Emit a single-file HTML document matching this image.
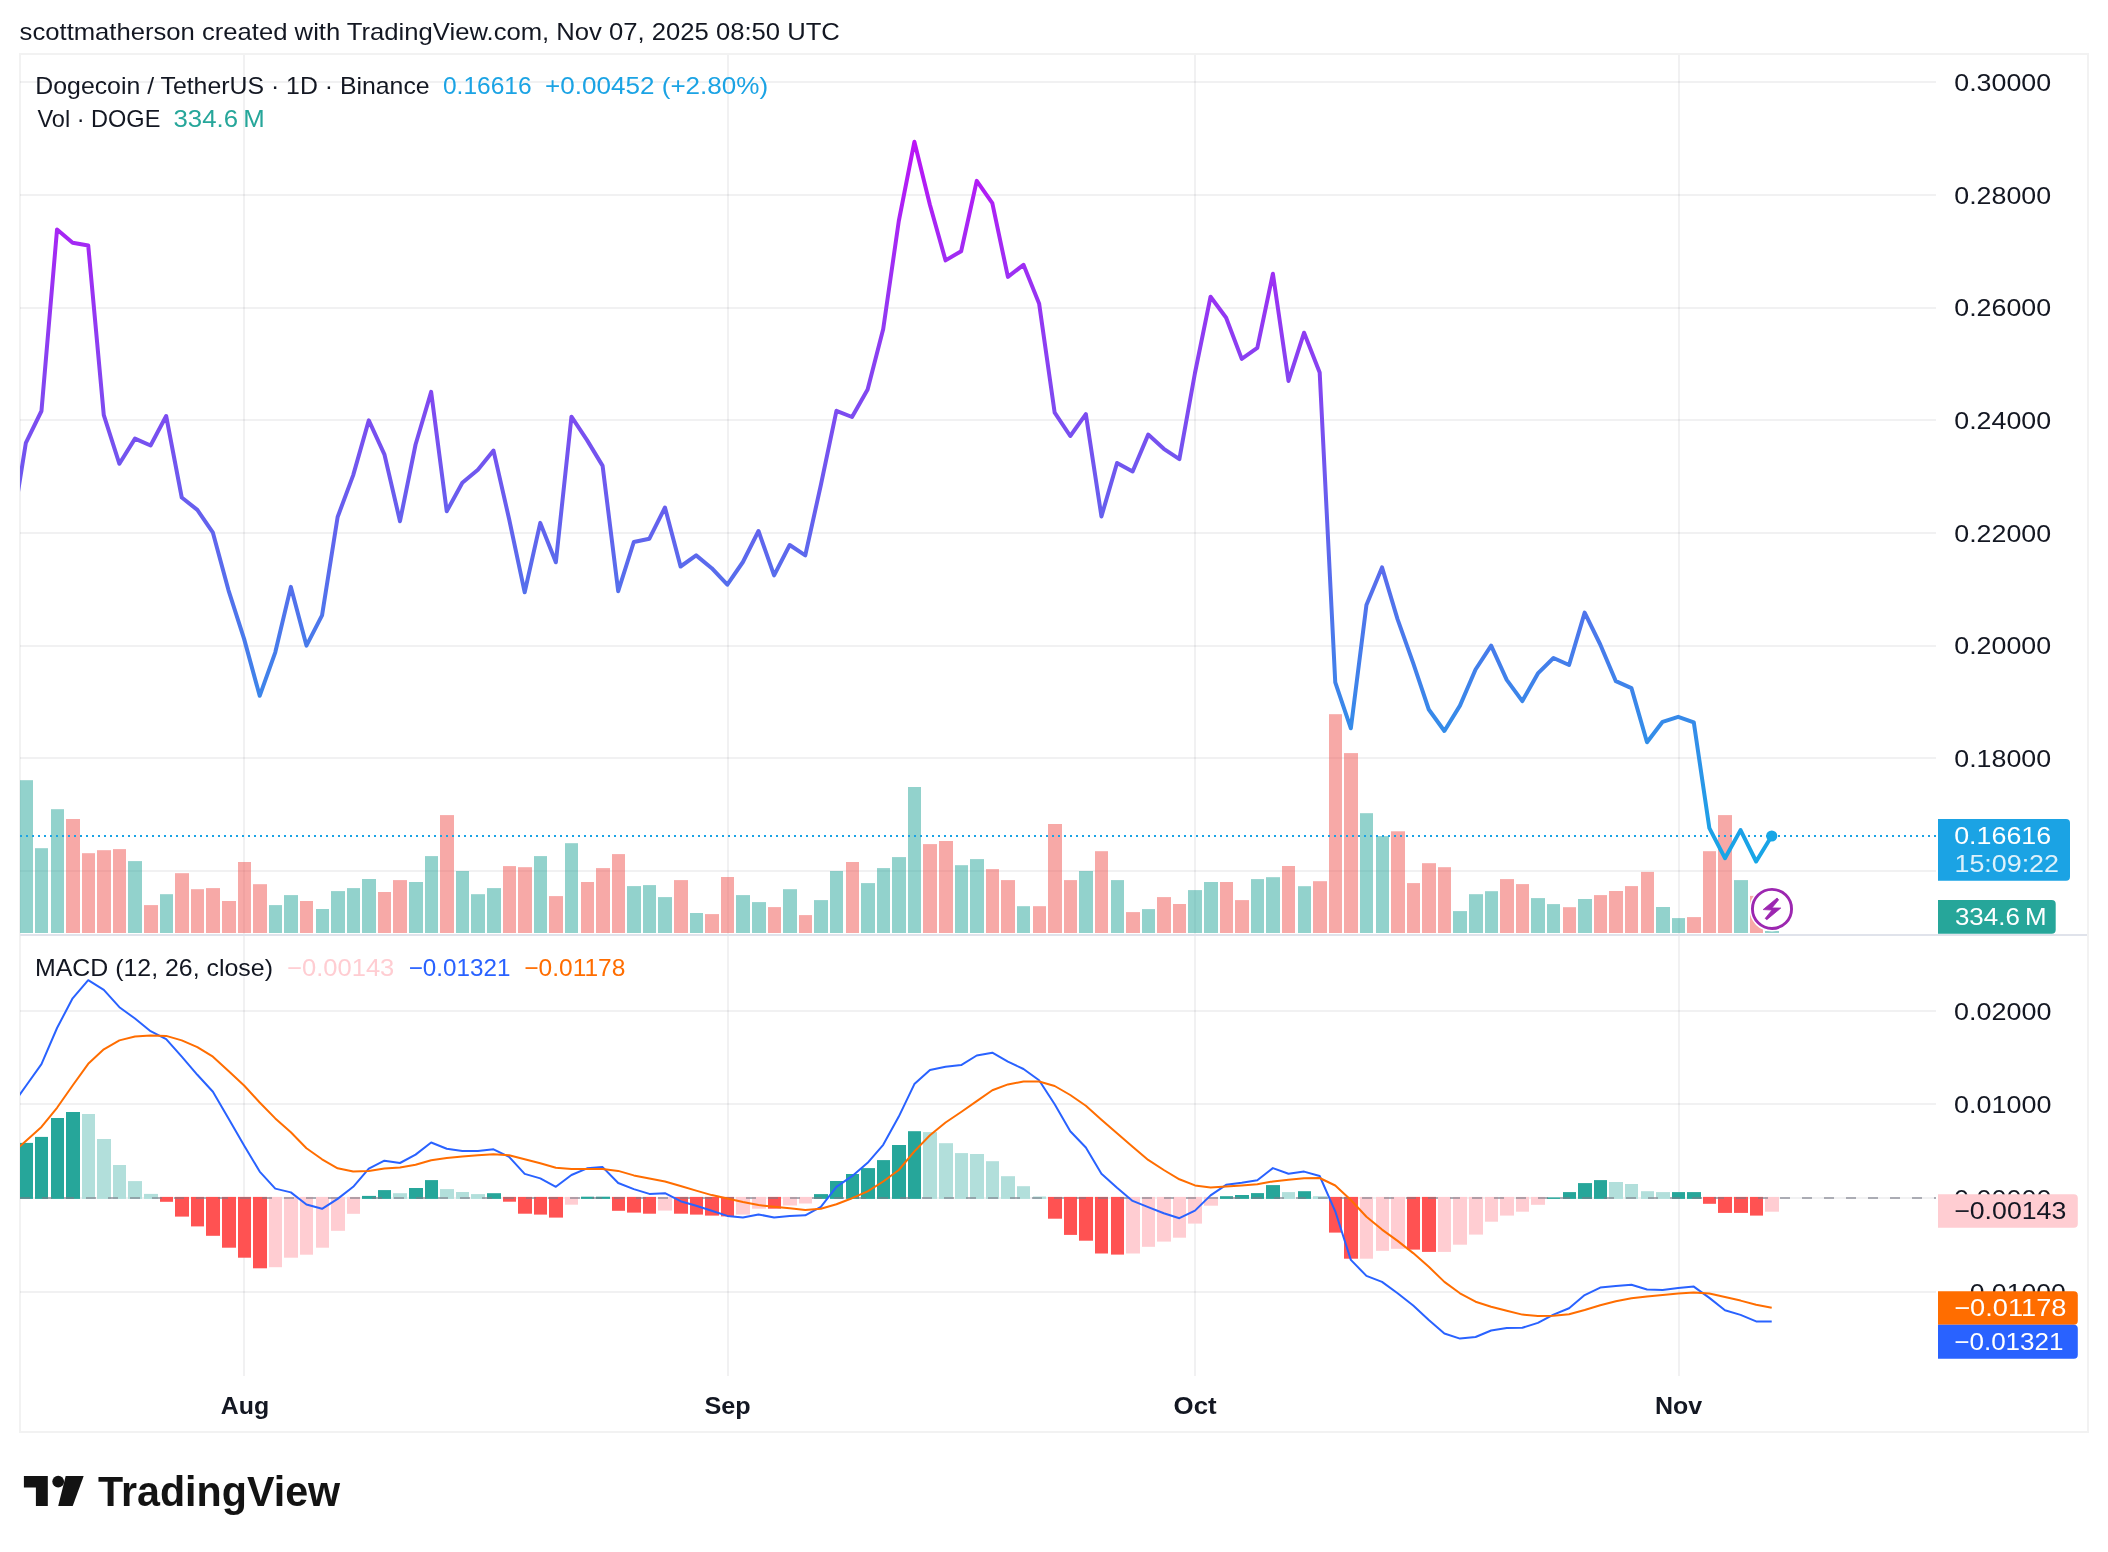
<!DOCTYPE html>
<html><head><meta charset="utf-8"><title>DOGE/USDT chart</title>
<style>
html,body{margin:0;padding:0;background:#fff;}
body{width:2108px;height:1552px;overflow:hidden;}
svg{display:block;will-change:transform;}
text{font-family:"Liberation Sans", Arial, sans-serif;}
</style></head><body>
<svg width="2108" height="1552" viewBox="0 0 2108 1552">
<defs>
<linearGradient id="lg" gradientUnits="userSpaceOnUse" x1="0" y1="141" x2="0" y2="862">
<stop offset="0" stop-color="#bb14f6"/>
<stop offset="1" stop-color="#16a7e6"/>
</linearGradient>
<clipPath id="cp"><rect x="20" y="55" width="1916" height="879"/></clipPath>
<clipPath id="cm"><rect x="20" y="936" width="1916" height="440"/></clipPath>
</defs>
<rect x="0" y="0" width="2108" height="1552" fill="#ffffff"/>

<rect x="20" y="54" width="2068" height="1378" fill="none" stroke="#f2f2f2" stroke-width="2"/>
<rect x="20" y="81" width="1916" height="2" fill="rgba(42,46,57,0.065)"/>
<rect x="20" y="194" width="1916" height="2" fill="rgba(42,46,57,0.065)"/>
<rect x="20" y="307" width="1916" height="2" fill="rgba(42,46,57,0.065)"/>
<rect x="20" y="419" width="1916" height="2" fill="rgba(42,46,57,0.065)"/>
<rect x="20" y="532" width="1916" height="2" fill="rgba(42,46,57,0.065)"/>
<rect x="20" y="645" width="1916" height="2" fill="rgba(42,46,57,0.065)"/>
<rect x="20" y="757" width="1916" height="2" fill="rgba(42,46,57,0.065)"/>
<rect x="20" y="870" width="1916" height="2" fill="rgba(42,46,57,0.065)"/>
<rect x="20" y="1010" width="1916" height="2" fill="rgba(42,46,57,0.065)"/>
<rect x="20" y="1103" width="1916" height="2" fill="rgba(42,46,57,0.065)"/>
<rect x="20" y="1197" width="1916" height="2" fill="rgba(42,46,57,0.065)"/>
<rect x="20" y="1291" width="1916" height="2" fill="rgba(42,46,57,0.065)"/>
<rect x="243" y="55" width="2" height="879" fill="rgba(42,46,57,0.065)"/>
<rect x="243" y="936" width="2" height="440" fill="rgba(42,46,57,0.065)"/>
<rect x="727" y="55" width="2" height="879" fill="rgba(42,46,57,0.065)"/>
<rect x="727" y="936" width="2" height="440" fill="rgba(42,46,57,0.065)"/>
<rect x="1194" y="55" width="2" height="879" fill="rgba(42,46,57,0.065)"/>
<rect x="1194" y="936" width="2" height="440" fill="rgba(42,46,57,0.065)"/>
<rect x="1678" y="55" width="2" height="879" fill="rgba(42,46,57,0.065)"/>
<rect x="1678" y="936" width="2" height="440" fill="rgba(42,46,57,0.065)"/>
<g clip-path="url(#cp)">
<rect x="19" y="780.2" width="14" height="152.8" fill="rgba(38,166,154,0.5)"/>
<rect x="35" y="848.2" width="13" height="84.8" fill="rgba(38,166,154,0.5)"/>
<rect x="51" y="809.2" width="13" height="123.8" fill="rgba(38,166,154,0.5)"/>
<rect x="66" y="819.0" width="14" height="114.0" fill="rgba(239,83,80,0.5)"/>
<rect x="82" y="853.2" width="13" height="79.8" fill="rgba(239,83,80,0.5)"/>
<rect x="97" y="850.2" width="14" height="82.8" fill="rgba(239,83,80,0.5)"/>
<rect x="113" y="849.1" width="13" height="83.9" fill="rgba(239,83,80,0.5)"/>
<rect x="128" y="861.1" width="14" height="71.9" fill="rgba(38,166,154,0.5)"/>
<rect x="144" y="905.1" width="14" height="27.9" fill="rgba(239,83,80,0.5)"/>
<rect x="160" y="894.2" width="13" height="38.8" fill="rgba(38,166,154,0.5)"/>
<rect x="175" y="873.2" width="14" height="59.8" fill="rgba(239,83,80,0.5)"/>
<rect x="191" y="889.2" width="13" height="43.8" fill="rgba(239,83,80,0.5)"/>
<rect x="206" y="888.1" width="14" height="44.9" fill="rgba(239,83,80,0.5)"/>
<rect x="222" y="901.0" width="14" height="32.0" fill="rgba(239,83,80,0.5)"/>
<rect x="238" y="862.0" width="13" height="71.0" fill="rgba(239,83,80,0.5)"/>
<rect x="253" y="884.2" width="14" height="48.8" fill="rgba(239,83,80,0.5)"/>
<rect x="269" y="905.1" width="13" height="27.9" fill="rgba(38,166,154,0.5)"/>
<rect x="284" y="895.1" width="14" height="37.9" fill="rgba(38,166,154,0.5)"/>
<rect x="300" y="901.0" width="13" height="32.0" fill="rgba(239,83,80,0.5)"/>
<rect x="316" y="909.0" width="13" height="24.0" fill="rgba(38,166,154,0.5)"/>
<rect x="331" y="891.1" width="14" height="41.9" fill="rgba(38,166,154,0.5)"/>
<rect x="347" y="888.1" width="13" height="44.9" fill="rgba(38,166,154,0.5)"/>
<rect x="362" y="879.0" width="14" height="54.0" fill="rgba(38,166,154,0.5)"/>
<rect x="378" y="892.0" width="13" height="41.0" fill="rgba(239,83,80,0.5)"/>
<rect x="393" y="880.1" width="14" height="52.9" fill="rgba(239,83,80,0.5)"/>
<rect x="409" y="882.0" width="14" height="51.0" fill="rgba(38,166,154,0.5)"/>
<rect x="425" y="856.1" width="13" height="76.9" fill="rgba(38,166,154,0.5)"/>
<rect x="440" y="815.1" width="14" height="117.9" fill="rgba(239,83,80,0.5)"/>
<rect x="456" y="871.0" width="13" height="62.0" fill="rgba(38,166,154,0.5)"/>
<rect x="471" y="894.2" width="14" height="38.8" fill="rgba(38,166,154,0.5)"/>
<rect x="487" y="888.1" width="14" height="44.9" fill="rgba(38,166,154,0.5)"/>
<rect x="503" y="866.1" width="13" height="66.9" fill="rgba(239,83,80,0.5)"/>
<rect x="518" y="867.2" width="14" height="65.8" fill="rgba(239,83,80,0.5)"/>
<rect x="534" y="856.1" width="13" height="76.9" fill="rgba(38,166,154,0.5)"/>
<rect x="549" y="896.1" width="14" height="36.9" fill="rgba(239,83,80,0.5)"/>
<rect x="565" y="843.2" width="13" height="89.8" fill="rgba(38,166,154,0.5)"/>
<rect x="581" y="882.0" width="13" height="51.0" fill="rgba(239,83,80,0.5)"/>
<rect x="596" y="868.1" width="14" height="64.9" fill="rgba(239,83,80,0.5)"/>
<rect x="612" y="854.1" width="13" height="78.9" fill="rgba(239,83,80,0.5)"/>
<rect x="627" y="886.1" width="14" height="46.9" fill="rgba(38,166,154,0.5)"/>
<rect x="643" y="885.1" width="13" height="47.9" fill="rgba(38,166,154,0.5)"/>
<rect x="658" y="897.1" width="14" height="35.9" fill="rgba(38,166,154,0.5)"/>
<rect x="674" y="880.1" width="14" height="52.9" fill="rgba(239,83,80,0.5)"/>
<rect x="690" y="913.0" width="13" height="20.0" fill="rgba(38,166,154,0.5)"/>
<rect x="705" y="914.1" width="14" height="18.9" fill="rgba(239,83,80,0.5)"/>
<rect x="721" y="877.0" width="13" height="56.0" fill="rgba(239,83,80,0.5)"/>
<rect x="736" y="895.1" width="14" height="37.9" fill="rgba(38,166,154,0.5)"/>
<rect x="752" y="902.1" width="14" height="30.9" fill="rgba(38,166,154,0.5)"/>
<rect x="768" y="907.1" width="13" height="25.9" fill="rgba(239,83,80,0.5)"/>
<rect x="783" y="889.2" width="14" height="43.8" fill="rgba(38,166,154,0.5)"/>
<rect x="799" y="915.1" width="13" height="17.9" fill="rgba(239,83,80,0.5)"/>
<rect x="814" y="900.1" width="14" height="32.9" fill="rgba(38,166,154,0.5)"/>
<rect x="830" y="871.0" width="13" height="62.0" fill="rgba(38,166,154,0.5)"/>
<rect x="846" y="862.0" width="13" height="71.0" fill="rgba(239,83,80,0.5)"/>
<rect x="861" y="883.1" width="14" height="49.9" fill="rgba(38,166,154,0.5)"/>
<rect x="877" y="868.1" width="13" height="64.9" fill="rgba(38,166,154,0.5)"/>
<rect x="892" y="857.1" width="14" height="75.9" fill="rgba(38,166,154,0.5)"/>
<rect x="908" y="787.0" width="13" height="146.0" fill="rgba(38,166,154,0.5)"/>
<rect x="923" y="844.1" width="14" height="88.9" fill="rgba(239,83,80,0.5)"/>
<rect x="939" y="841.0" width="14" height="92.0" fill="rgba(239,83,80,0.5)"/>
<rect x="955" y="865.2" width="13" height="67.8" fill="rgba(38,166,154,0.5)"/>
<rect x="970" y="859.1" width="14" height="73.9" fill="rgba(38,166,154,0.5)"/>
<rect x="986" y="869.1" width="13" height="63.9" fill="rgba(239,83,80,0.5)"/>
<rect x="1001" y="880.1" width="14" height="52.9" fill="rgba(239,83,80,0.5)"/>
<rect x="1017" y="906.2" width="13" height="26.8" fill="rgba(38,166,154,0.5)"/>
<rect x="1033" y="906.2" width="13" height="26.8" fill="rgba(239,83,80,0.5)"/>
<rect x="1048" y="824.0" width="14" height="109.0" fill="rgba(239,83,80,0.5)"/>
<rect x="1064" y="880.1" width="13" height="52.9" fill="rgba(239,83,80,0.5)"/>
<rect x="1079" y="871.0" width="14" height="62.0" fill="rgba(38,166,154,0.5)"/>
<rect x="1095" y="851.2" width="13" height="81.8" fill="rgba(239,83,80,0.5)"/>
<rect x="1111" y="880.1" width="13" height="52.9" fill="rgba(38,166,154,0.5)"/>
<rect x="1126" y="912.1" width="14" height="20.9" fill="rgba(239,83,80,0.5)"/>
<rect x="1142" y="909.1" width="13" height="23.9" fill="rgba(38,166,154,0.5)"/>
<rect x="1157" y="897.1" width="14" height="35.9" fill="rgba(239,83,80,0.5)"/>
<rect x="1173" y="904.0" width="13" height="29.0" fill="rgba(239,83,80,0.5)"/>
<rect x="1188" y="890.1" width="14" height="42.9" fill="rgba(38,166,154,0.5)"/>
<rect x="1204" y="882.0" width="14" height="51.0" fill="rgba(38,166,154,0.5)"/>
<rect x="1220" y="882.0" width="13" height="51.0" fill="rgba(239,83,80,0.5)"/>
<rect x="1235" y="900.1" width="14" height="32.9" fill="rgba(239,83,80,0.5)"/>
<rect x="1251" y="879.1" width="13" height="53.9" fill="rgba(38,166,154,0.5)"/>
<rect x="1266" y="877.2" width="14" height="55.8" fill="rgba(38,166,154,0.5)"/>
<rect x="1282" y="866.0" width="13" height="67.0" fill="rgba(239,83,80,0.5)"/>
<rect x="1298" y="886.2" width="13" height="46.8" fill="rgba(38,166,154,0.5)"/>
<rect x="1313" y="881.2" width="14" height="51.8" fill="rgba(239,83,80,0.5)"/>
<rect x="1329" y="714.2" width="13" height="218.8" fill="rgba(239,83,80,0.5)"/>
<rect x="1344" y="753.1" width="14" height="179.9" fill="rgba(239,83,80,0.5)"/>
<rect x="1360" y="813.2" width="13" height="119.8" fill="rgba(38,166,154,0.5)"/>
<rect x="1376" y="836.1" width="13" height="96.9" fill="rgba(38,166,154,0.5)"/>
<rect x="1391" y="831.3" width="14" height="101.7" fill="rgba(239,83,80,0.5)"/>
<rect x="1407" y="883.1" width="13" height="49.9" fill="rgba(239,83,80,0.5)"/>
<rect x="1422" y="863.2" width="14" height="69.8" fill="rgba(239,83,80,0.5)"/>
<rect x="1438" y="867.2" width="13" height="65.8" fill="rgba(239,83,80,0.5)"/>
<rect x="1453" y="911.1" width="14" height="21.9" fill="rgba(38,166,154,0.5)"/>
<rect x="1469" y="894.2" width="14" height="38.8" fill="rgba(38,166,154,0.5)"/>
<rect x="1485" y="891.2" width="13" height="41.8" fill="rgba(38,166,154,0.5)"/>
<rect x="1500" y="879.1" width="14" height="53.9" fill="rgba(239,83,80,0.5)"/>
<rect x="1516" y="884.1" width="13" height="48.9" fill="rgba(239,83,80,0.5)"/>
<rect x="1531" y="898.1" width="14" height="34.9" fill="rgba(38,166,154,0.5)"/>
<rect x="1547" y="904.1" width="13" height="28.9" fill="rgba(38,166,154,0.5)"/>
<rect x="1563" y="907.2" width="13" height="25.8" fill="rgba(239,83,80,0.5)"/>
<rect x="1578" y="899.0" width="14" height="34.0" fill="rgba(38,166,154,0.5)"/>
<rect x="1594" y="895.1" width="13" height="37.9" fill="rgba(239,83,80,0.5)"/>
<rect x="1609" y="891.0" width="14" height="42.0" fill="rgba(239,83,80,0.5)"/>
<rect x="1625" y="886.1" width="13" height="46.9" fill="rgba(239,83,80,0.5)"/>
<rect x="1641" y="871.9" width="13" height="61.1" fill="rgba(239,83,80,0.5)"/>
<rect x="1656" y="907.0" width="14" height="26.0" fill="rgba(38,166,154,0.5)"/>
<rect x="1672" y="918.1" width="13" height="14.9" fill="rgba(38,166,154,0.5)"/>
<rect x="1687" y="917.1" width="14" height="15.9" fill="rgba(239,83,80,0.5)"/>
<rect x="1703" y="851.2" width="13" height="81.8" fill="rgba(239,83,80,0.5)"/>
<rect x="1718" y="815.1" width="14" height="117.9" fill="rgba(239,83,80,0.5)"/>
<rect x="1734" y="880.1" width="14" height="52.9" fill="rgba(38,166,154,0.5)"/>
<rect x="1750" y="895.9" width="13" height="37.1" fill="rgba(239,83,80,0.5)"/>
<rect x="1765" y="931.0" width="14" height="2.0" fill="rgba(38,166,154,0.5)"/>
<line x1="20" y1="836" x2="1936" y2="836" stroke="#1ba3e4" stroke-width="2" stroke-dasharray="2 4"/>
<polyline points="10.28,540.0 25.87,442.8 41.46,411.0 57.04,229.4 72.63,242.7 88.22,245.5 103.81,415.2 119.40,463.8 134.98,438.6 150.57,445.5 166.16,416.0 181.75,497.5 197.34,509.9 212.92,532.7 228.51,590.3 244.10,638.9 259.69,695.8 275.28,652.3 290.86,586.9 306.45,645.6 322.04,615.4 337.63,517.0 353.22,475.1 368.80,420.4 384.39,454.3 399.98,521.2 415.57,444.5 431.16,391.9 446.74,511.3 462.33,482.8 477.92,469.7 493.51,450.6 509.10,519.0 524.68,592.3 540.27,522.9 555.86,562.3 571.45,416.7 587.04,440.1 602.62,465.9 618.21,591.2 633.80,542.0 649.39,538.7 664.98,507.5 680.56,566.5 696.15,555.4 711.74,568.2 727.33,584.7 742.92,562.0 758.50,531.0 774.09,575.4 789.68,545.0 805.27,555.4 820.86,485.0 836.44,410.8 852.03,417.0 867.62,389.5 883.21,329.0 898.80,221.0 914.38,141.8 929.97,205.0 945.56,260.4 961.15,251.2 976.74,180.9 992.32,203.1 1007.91,276.9 1023.50,264.8 1039.09,303.4 1054.68,412.7 1070.26,436.0 1085.85,414.1 1101.44,516.4 1117.03,463.0 1132.62,471.5 1148.20,434.6 1163.79,448.8 1179.38,459.2 1194.97,373.0 1210.56,296.7 1226.14,317.8 1241.73,358.9 1257.32,347.8 1272.91,273.7 1288.50,381.0 1304.08,332.7 1319.67,372.4 1335.26,682.3 1350.85,728.3 1366.44,605.0 1382.02,567.4 1397.61,619.3 1413.20,663.1 1428.79,709.5 1444.38,731.0 1459.96,705.6 1475.55,669.5 1491.14,645.7 1506.73,679.9 1522.32,701.1 1537.90,673.4 1553.49,658.0 1569.08,665.0 1584.67,612.6 1600.26,644.5 1615.84,681.2 1631.43,688.1 1647.02,742.3 1662.61,721.8 1678.20,716.8 1693.78,722.3 1709.37,828.2 1724.96,858.2 1740.55,830.1 1756.14,861.5 1771.72,836.0" fill="none" stroke="url(#lg)" stroke-width="4" stroke-linejoin="round" stroke-linecap="round"/>
<circle cx="1771.72" cy="836" r="5.6" fill="#17a6e6"/>
<circle cx="1772.0" cy="908.9" r="22.6" fill="#ffffff"/>
<circle cx="1772.0" cy="908.9" r="19.55" fill="#ffffff" stroke="#9c27b0" stroke-width="2.9"/>
<polygon points="1777.07,898.00 1778.62,899.85 1771.97,907.90 1780.79,908.04 1766.87,919.64 1765.17,918.41 1771.97,910.05 1763.16,909.59" fill="#9c27b0" stroke="#9c27b0" stroke-width="0.8" stroke-linejoin="round"/>
</g>
<rect x="20" y="934" width="2067" height="2" fill="#e0e3eb"/>
<g clip-path="url(#cm)">
<rect x="19" y="1142.9" width="14" height="56.0" fill="#26a69a"/>
<rect x="35" y="1136.9" width="13" height="62.0" fill="#26a69a"/>
<rect x="51" y="1118.0" width="13" height="80.9" fill="#26a69a"/>
<rect x="66" y="1112.0" width="14" height="86.9" fill="#26a69a"/>
<rect x="82" y="1114.0" width="13" height="84.9" fill="#b2dfdb"/>
<rect x="97" y="1139.0" width="14" height="59.9" fill="#b2dfdb"/>
<rect x="113" y="1165.0" width="13" height="33.9" fill="#b2dfdb"/>
<rect x="128" y="1181.1" width="14" height="17.8" fill="#b2dfdb"/>
<rect x="144" y="1193.9" width="14" height="5.0" fill="#b2dfdb"/>
<rect x="160" y="1196.9" width="13" height="4.9" fill="#ff5252"/>
<rect x="175" y="1196.9" width="14" height="19.7" fill="#ff5252"/>
<rect x="191" y="1196.9" width="13" height="29.5" fill="#ff5252"/>
<rect x="206" y="1196.9" width="14" height="38.9" fill="#ff5252"/>
<rect x="222" y="1196.9" width="14" height="50.8" fill="#ff5252"/>
<rect x="238" y="1196.9" width="13" height="60.8" fill="#ff5252"/>
<rect x="253" y="1196.9" width="14" height="71.4" fill="#ff5252"/>
<rect x="269" y="1196.9" width="13" height="70.3" fill="#ffcdd2"/>
<rect x="284" y="1196.9" width="14" height="60.8" fill="#ffcdd2"/>
<rect x="300" y="1196.9" width="13" height="57.8" fill="#ffcdd2"/>
<rect x="316" y="1196.9" width="13" height="50.8" fill="#ffcdd2"/>
<rect x="331" y="1196.9" width="14" height="33.9" fill="#ffcdd2"/>
<rect x="347" y="1196.9" width="13" height="16.9" fill="#ffcdd2"/>
<rect x="362" y="1195.9" width="14" height="3.0" fill="#26a69a"/>
<rect x="378" y="1190.1" width="13" height="8.8" fill="#26a69a"/>
<rect x="393" y="1193.2" width="14" height="5.7" fill="#b2dfdb"/>
<rect x="409" y="1188.0" width="14" height="10.9" fill="#26a69a"/>
<rect x="425" y="1180.1" width="13" height="18.8" fill="#26a69a"/>
<rect x="440" y="1189.1" width="14" height="9.8" fill="#b2dfdb"/>
<rect x="456" y="1192.0" width="13" height="6.9" fill="#b2dfdb"/>
<rect x="471" y="1194.1" width="14" height="4.8" fill="#b2dfdb"/>
<rect x="487" y="1193.2" width="14" height="5.7" fill="#26a69a"/>
<rect x="503" y="1196.9" width="13" height="4.8" fill="#ff5252"/>
<rect x="518" y="1196.9" width="14" height="16.8" fill="#ff5252"/>
<rect x="534" y="1196.9" width="13" height="17.7" fill="#ff5252"/>
<rect x="549" y="1196.9" width="14" height="20.7" fill="#ff5252"/>
<rect x="565" y="1196.9" width="13" height="7.8" fill="#ffcdd2"/>
<rect x="581" y="1196.7" width="13" height="2.2" fill="#26a69a"/>
<rect x="596" y="1196.7" width="14" height="2.2" fill="#26a69a"/>
<rect x="612" y="1196.9" width="13" height="13.9" fill="#ff5252"/>
<rect x="627" y="1196.9" width="14" height="15.7" fill="#ff5252"/>
<rect x="643" y="1196.9" width="13" height="16.8" fill="#ff5252"/>
<rect x="658" y="1196.9" width="14" height="13.7" fill="#ffcdd2"/>
<rect x="674" y="1196.9" width="14" height="16.8" fill="#ff5252"/>
<rect x="690" y="1196.9" width="13" height="17.7" fill="#ff5252"/>
<rect x="705" y="1196.9" width="14" height="18.7" fill="#ff5252"/>
<rect x="721" y="1196.9" width="13" height="19.5" fill="#ff5252"/>
<rect x="736" y="1196.9" width="14" height="17.7" fill="#ffcdd2"/>
<rect x="752" y="1196.9" width="14" height="11.8" fill="#ffcdd2"/>
<rect x="768" y="1196.9" width="13" height="11.8" fill="#ff5252"/>
<rect x="783" y="1196.9" width="14" height="8.6" fill="#ffcdd2"/>
<rect x="799" y="1196.9" width="13" height="6.6" fill="#ffcdd2"/>
<rect x="814" y="1194.1" width="14" height="4.8" fill="#26a69a"/>
<rect x="830" y="1181.0" width="13" height="17.9" fill="#26a69a"/>
<rect x="846" y="1174.0" width="13" height="24.9" fill="#26a69a"/>
<rect x="861" y="1168.1" width="14" height="30.8" fill="#26a69a"/>
<rect x="877" y="1160.1" width="13" height="38.8" fill="#26a69a"/>
<rect x="892" y="1145.0" width="14" height="53.9" fill="#26a69a"/>
<rect x="908" y="1131.2" width="13" height="67.7" fill="#26a69a"/>
<rect x="923" y="1132.1" width="14" height="66.8" fill="#b2dfdb"/>
<rect x="939" y="1143.2" width="14" height="55.7" fill="#b2dfdb"/>
<rect x="955" y="1153.1" width="13" height="45.8" fill="#b2dfdb"/>
<rect x="970" y="1154.0" width="14" height="44.9" fill="#b2dfdb"/>
<rect x="986" y="1161.2" width="13" height="37.7" fill="#b2dfdb"/>
<rect x="1001" y="1176.2" width="14" height="22.7" fill="#b2dfdb"/>
<rect x="1017" y="1186.2" width="13" height="12.7" fill="#b2dfdb"/>
<rect x="1033" y="1196.5" width="13" height="2.4" fill="#b2dfdb"/>
<rect x="1048" y="1196.9" width="14" height="21.8" fill="#ff5252"/>
<rect x="1064" y="1196.9" width="13" height="38.0" fill="#ff5252"/>
<rect x="1079" y="1196.9" width="14" height="43.8" fill="#ff5252"/>
<rect x="1095" y="1196.9" width="13" height="56.6" fill="#ff5252"/>
<rect x="1111" y="1196.9" width="13" height="57.7" fill="#ff5252"/>
<rect x="1126" y="1196.9" width="14" height="56.6" fill="#ffcdd2"/>
<rect x="1142" y="1196.9" width="13" height="49.9" fill="#ffcdd2"/>
<rect x="1157" y="1196.9" width="14" height="44.7" fill="#ffcdd2"/>
<rect x="1173" y="1196.9" width="13" height="40.8" fill="#ffcdd2"/>
<rect x="1188" y="1196.9" width="14" height="26.7" fill="#ffcdd2"/>
<rect x="1204" y="1196.9" width="14" height="8.8" fill="#ffcdd2"/>
<rect x="1220" y="1196.2" width="13" height="2.7" fill="#26a69a"/>
<rect x="1235" y="1195.0" width="14" height="3.9" fill="#26a69a"/>
<rect x="1251" y="1193.1" width="13" height="5.8" fill="#26a69a"/>
<rect x="1266" y="1185.1" width="14" height="13.8" fill="#26a69a"/>
<rect x="1282" y="1192.1" width="13" height="6.8" fill="#b2dfdb"/>
<rect x="1298" y="1191.2" width="13" height="7.7" fill="#26a69a"/>
<rect x="1313" y="1196.2" width="14" height="2.7" fill="#b2dfdb"/>
<rect x="1329" y="1196.9" width="13" height="35.7" fill="#ff5252"/>
<rect x="1344" y="1196.9" width="14" height="61.8" fill="#ff5252"/>
<rect x="1360" y="1196.9" width="13" height="61.8" fill="#ffcdd2"/>
<rect x="1376" y="1196.9" width="13" height="53.9" fill="#ffcdd2"/>
<rect x="1391" y="1196.9" width="14" height="51.9" fill="#ffcdd2"/>
<rect x="1407" y="1196.9" width="13" height="52.7" fill="#ff5252"/>
<rect x="1422" y="1196.9" width="14" height="55.0" fill="#ff5252"/>
<rect x="1438" y="1196.9" width="13" height="55.0" fill="#ffcdd2"/>
<rect x="1453" y="1196.9" width="14" height="47.8" fill="#ffcdd2"/>
<rect x="1469" y="1196.9" width="14" height="37.7" fill="#ffcdd2"/>
<rect x="1485" y="1196.9" width="13" height="24.8" fill="#ffcdd2"/>
<rect x="1500" y="1196.9" width="14" height="18.7" fill="#ffcdd2"/>
<rect x="1516" y="1196.9" width="13" height="14.8" fill="#ffcdd2"/>
<rect x="1531" y="1196.9" width="14" height="7.9" fill="#ffcdd2"/>
<rect x="1547" y="1197.4" width="13" height="1.5" fill="#26a69a"/>
<rect x="1563" y="1192.1" width="13" height="6.8" fill="#26a69a"/>
<rect x="1578" y="1183.1" width="14" height="15.8" fill="#26a69a"/>
<rect x="1594" y="1180.1" width="13" height="18.8" fill="#26a69a"/>
<rect x="1609" y="1182.0" width="14" height="16.9" fill="#b2dfdb"/>
<rect x="1625" y="1184.0" width="13" height="14.9" fill="#b2dfdb"/>
<rect x="1641" y="1191.2" width="13" height="7.7" fill="#b2dfdb"/>
<rect x="1656" y="1192.1" width="14" height="6.8" fill="#b2dfdb"/>
<rect x="1672" y="1192.1" width="13" height="6.8" fill="#26a69a"/>
<rect x="1687" y="1192.1" width="14" height="6.8" fill="#26a69a"/>
<rect x="1703" y="1196.9" width="13" height="6.9" fill="#ff5252"/>
<rect x="1718" y="1196.9" width="14" height="16.0" fill="#ff5252"/>
<rect x="1734" y="1196.9" width="14" height="16.0" fill="#ff5252"/>
<rect x="1750" y="1196.9" width="13" height="18.7" fill="#ff5252"/>
<rect x="1765" y="1196.9" width="14" height="14.8" fill="#ffcdd2"/>
<line x1="20" y1="1197.9" x2="1936" y2="1197.9" stroke="rgba(120,123,134,0.58)" stroke-width="2" stroke-dasharray="10 12"/>
<polyline points="10.28,1108.0 25.87,1086.0 41.46,1064.2 57.04,1028.0 72.63,998.3 88.22,980.2 103.81,989.8 119.40,1007.2 134.98,1018.5 150.57,1031.2 166.16,1039.1 181.75,1056.7 197.34,1074.8 212.92,1091.8 228.51,1118.4 244.10,1145.4 259.69,1171.6 275.28,1188.6 290.86,1192.4 306.45,1204.5 322.04,1208.8 337.63,1198.9 353.22,1186.8 368.80,1168.6 384.39,1160.7 399.98,1163.0 415.57,1154.6 431.16,1142.5 446.74,1148.8 462.33,1151.1 477.92,1151.1 493.51,1149.3 509.10,1156.9 524.68,1173.9 540.27,1178.4 555.86,1186.8 571.45,1175.0 587.04,1168.3 602.62,1167.1 618.21,1183.0 633.80,1189.1 649.39,1193.9 664.98,1193.2 680.56,1201.2 696.15,1205.8 711.74,1210.8 727.33,1215.9 742.92,1217.6 758.50,1214.4 774.09,1217.6 789.68,1215.9 805.27,1215.3 820.86,1206.8 836.44,1186.8 852.03,1176.2 867.62,1162.8 883.21,1144.8 898.80,1116.6 914.38,1084.1 929.97,1069.9 945.56,1066.7 961.15,1065.1 976.74,1055.5 992.32,1052.7 1007.91,1061.7 1023.50,1069.0 1039.09,1080.3 1054.68,1104.2 1070.26,1131.3 1085.85,1147.5 1101.44,1173.8 1117.03,1187.8 1132.62,1200.9 1148.20,1207.1 1163.79,1213.3 1179.38,1218.2 1194.97,1210.6 1210.56,1195.4 1226.14,1184.8 1241.73,1182.8 1257.32,1180.2 1272.91,1168.1 1288.50,1173.7 1304.08,1171.6 1319.67,1176.0 1335.26,1211.3 1350.85,1259.9 1366.44,1275.9 1382.02,1281.9 1397.61,1293.3 1413.20,1305.5 1428.79,1319.9 1444.38,1333.5 1459.96,1338.6 1475.55,1337.0 1491.14,1330.5 1506.73,1327.9 1522.32,1327.8 1537.90,1322.9 1553.49,1314.6 1569.08,1308.2 1584.67,1295.1 1600.26,1287.6 1615.84,1286.0 1631.43,1284.7 1647.02,1289.5 1662.61,1290.0 1678.20,1288.0 1693.78,1286.6 1709.37,1297.9 1724.96,1310.3 1740.55,1314.9 1756.14,1321.4 1771.72,1321.4" fill="none" stroke="#2962ff" stroke-width="2" stroke-linejoin="round"/>
<polyline points="10.28,1155.0 25.87,1141.0 41.46,1126.9 57.04,1107.8 72.63,1085.5 88.22,1063.8 103.81,1049.3 119.40,1040.4 134.98,1036.5 150.57,1035.5 166.16,1035.9 181.75,1040.4 197.34,1047.2 212.92,1056.7 228.51,1071.0 244.10,1085.5 259.69,1102.5 275.28,1118.4 290.86,1132.2 306.45,1148.2 322.04,1159.3 337.63,1168.3 353.22,1171.6 368.80,1170.9 384.39,1168.6 399.98,1167.4 415.57,1164.8 431.16,1160.2 446.74,1158.0 462.33,1156.4 477.92,1155.2 493.51,1154.2 509.10,1155.2 524.68,1159.2 540.27,1163.3 555.86,1167.8 571.45,1168.9 587.04,1168.9 602.62,1168.9 618.21,1170.9 633.80,1175.4 649.39,1178.4 664.98,1181.5 680.56,1186.0 696.15,1190.6 711.74,1195.1 727.33,1198.6 742.92,1202.0 758.50,1205.0 774.09,1206.8 789.68,1208.3 805.27,1209.9 820.86,1208.8 836.44,1204.3 852.03,1198.2 867.62,1191.3 883.21,1181.5 898.80,1170.0 914.38,1151.4 929.97,1135.2 945.56,1122.5 961.15,1112.0 976.74,1101.1 992.32,1090.3 1007.91,1084.4 1023.50,1081.5 1039.09,1081.5 1054.68,1086.0 1070.26,1095.0 1085.85,1105.8 1101.44,1119.7 1117.03,1133.3 1132.62,1146.8 1148.20,1159.9 1163.79,1170.0 1179.38,1179.3 1194.97,1185.4 1210.56,1187.4 1226.14,1186.6 1241.73,1185.5 1257.32,1184.3 1272.91,1181.4 1288.50,1179.8 1304.08,1178.3 1319.67,1178.0 1335.26,1185.5 1350.85,1200.0 1366.44,1216.7 1382.02,1229.6 1397.61,1240.9 1413.20,1253.1 1428.79,1266.8 1444.38,1281.9 1459.96,1293.3 1475.55,1301.7 1491.14,1306.7 1506.73,1310.8 1522.32,1314.6 1537.90,1316.1 1553.49,1315.8 1569.08,1314.3 1584.67,1310.0 1600.26,1305.2 1615.84,1301.2 1631.43,1298.2 1647.02,1296.4 1662.61,1295.1 1678.20,1293.6 1693.78,1292.6 1709.37,1293.6 1724.96,1297.1 1740.55,1300.6 1756.14,1304.7 1771.72,1307.7" fill="none" stroke="#ff6d00" stroke-width="2" stroke-linejoin="round"/>
</g>
<text x="1954.28" y="91.0" font-size="24" fill="#131722" textLength="96.87" lengthAdjust="spacingAndGlyphs">0.30000</text>
<text x="1954.28" y="203.7" font-size="24" fill="#131722" textLength="96.87" lengthAdjust="spacingAndGlyphs">0.28000</text>
<text x="1954.28" y="316.3" font-size="24" fill="#131722" textLength="96.87" lengthAdjust="spacingAndGlyphs">0.26000</text>
<text x="1954.28" y="429.0" font-size="24" fill="#131722" textLength="96.87" lengthAdjust="spacingAndGlyphs">0.24000</text>
<text x="1954.28" y="541.7" font-size="24" fill="#131722" textLength="96.87" lengthAdjust="spacingAndGlyphs">0.22000</text>
<text x="1954.28" y="654.4" font-size="24" fill="#131722" textLength="96.87" lengthAdjust="spacingAndGlyphs">0.20000</text>
<text x="1954.28" y="767.0" font-size="24" fill="#131722" textLength="96.87" lengthAdjust="spacingAndGlyphs">0.18000</text>
<text x="1954.08" y="1019.7" font-size="24" fill="#131722" textLength="97.38" lengthAdjust="spacingAndGlyphs">0.02000</text>
<text x="1954.08" y="1113.3" font-size="24" fill="#131722" textLength="97.38" lengthAdjust="spacingAndGlyphs">0.01000</text>
<text x="1954.08" y="1206.9" font-size="24" fill="#131722" textLength="97.38" lengthAdjust="spacingAndGlyphs">0.00000</text>
<text x="1954.19" y="1300.5" font-size="24" fill="#131722" textLength="111.57" lengthAdjust="spacingAndGlyphs">−0.01000</text>
<path d="M1938,819 H2066 Q2070,819 2070,823 V876.7 Q2070,880.7 2066,880.7 H1938 Z" fill="#1ba3e4"/>
<path d="M1938,900.1 H2051.7 Q2055.7,900.1 2055.7,904.1 V929.7 Q2055.7,933.7 2051.7,933.7 H1938 Z" fill="#26a69a"/>
<path d="M1938,1194.2 H2073.8 Q2077.8,1194.2 2077.8,1198.2 V1223.8 Q2077.8,1227.8 2073.8,1227.8 H1938 Z" fill="#ffcdd2"/>
<path d="M1938,1291.3 H2073.8 Q2077.8,1291.3 2077.8,1295.3 V1320.7 Q2077.8,1324.7 2073.8,1324.7 H1938 Z" fill="#ff6d00"/>
<path d="M1938,1324.7 H2073.8 Q2077.8,1324.7 2077.8,1328.7 V1354.7 Q2077.8,1358.7 2073.8,1358.7 H1938 Z" fill="#2962ff"/>
<text x="1954.18" y="844.3" font-size="24" fill="#ffffff" textLength="96.97" lengthAdjust="spacingAndGlyphs">0.16616</text>
<text x="1954.46" y="872.3" font-size="24" fill="rgba(255,255,255,0.85)" textLength="104.53" lengthAdjust="spacingAndGlyphs">15:09:22</text>
<text x="1954.92" y="925.2" font-size="24" fill="#ffffff" textLength="91.69" lengthAdjust="spacingAndGlyphs">334.6 M</text>
<text x="1954.19" y="1219.4" font-size="24" fill="#131722" textLength="112.08" lengthAdjust="spacingAndGlyphs">−0.00143</text>
<text x="1954.16" y="1316.0" font-size="24" fill="#ffffff" textLength="112.37" lengthAdjust="spacingAndGlyphs">−0.01178</text>
<text x="1954.22" y="1350.1" font-size="24" fill="#ffffff" textLength="109.33" lengthAdjust="spacingAndGlyphs">−0.01321</text>
<text x="220.76" y="1414.2" font-size="24" font-weight="bold" fill="#131722" textLength="48.35" lengthAdjust="spacingAndGlyphs">Aug</text>
<text x="704.55" y="1414.2" font-size="24" font-weight="bold" fill="#131722" textLength="46.22" lengthAdjust="spacingAndGlyphs">Sep</text>
<text x="1173.63" y="1414.2" font-size="24" font-weight="bold" fill="#131722" textLength="42.99" lengthAdjust="spacingAndGlyphs">Oct</text>
<text x="1654.92" y="1414.2" font-size="24" font-weight="bold" fill="#131722" textLength="47.14" lengthAdjust="spacingAndGlyphs">Nov</text>
<text x="19.63" y="39.9" font-size="24" fill="#131722" textLength="820.25" lengthAdjust="spacingAndGlyphs">scottmatherson created with TradingView.com, Nov 07, 2025 08:50 UTC</text>
<text x="35.33" y="93.9" font-size="24" fill="#131722" textLength="394.3" lengthAdjust="spacingAndGlyphs">Dogecoin / TetherUS · 1D · Binance</text>
<text x="442.98" y="93.9" font-size="24" fill="#1ba3e4" textLength="88.71" lengthAdjust="spacingAndGlyphs">0.16616</text>
<text x="545.01" y="93.9" font-size="24" fill="#1ba3e4" textLength="223.22" lengthAdjust="spacingAndGlyphs">+0.00452 (+2.80%)</text>
<text x="37.4" y="127.4" font-size="24" fill="#131722" textLength="122.95" lengthAdjust="spacingAndGlyphs">Vol · DOGE</text>
<text x="173.53" y="127.4" font-size="24" fill="#26a69a" textLength="91.07" lengthAdjust="spacingAndGlyphs">334.6 M</text>
<text x="34.92" y="975.6" font-size="24" fill="#131722" textLength="238.03" lengthAdjust="spacingAndGlyphs">MACD (12, 26, close)</text>
<text x="287.14" y="975.6" font-size="24" fill="#ffcdd2" textLength="107.19" lengthAdjust="spacingAndGlyphs">−0.00143</text>
<text x="408.69" y="975.6" font-size="24" fill="#2962ff" textLength="101.8" lengthAdjust="spacingAndGlyphs">−0.01321</text>
<text x="524.28" y="975.6" font-size="24" fill="#ff6d00" textLength="101.14" lengthAdjust="spacingAndGlyphs">−0.01178</text>
<text x="98.0" y="1505.9" font-size="43" font-weight="bold" fill="#131313" textLength="242.18" lengthAdjust="spacingAndGlyphs">TradingView</text>
<g fill="#131313">
<path d="M23.9,1476 H47.8 V1505.9 H35.9 V1487.6 H23.9 Z"/>
<circle cx="58.2" cy="1481.6" r="5.9"/>
<path d="M65.7,1476 H83.7 L72.7,1505.9 H58.2 Z"/>
</g>
</svg></body></html>
